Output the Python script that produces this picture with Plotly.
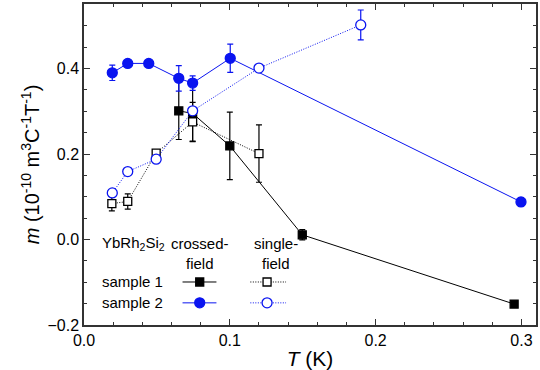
import plotly.graph_objects as go

# sample 1, crossed-field (filled black squares)
s1c_T = [0.065, 0.0745, 0.100, 0.1497, 0.295]
s1c_m = [0.301, 0.295, 0.219, 0.011, -0.151]
s1c_e = [0.067, 0.065, 0.079, 0.012, 0.0]

# sample 1, single-field (open black squares)
s1s_T = [0.0191, 0.030, 0.0495, 0.0745, 0.120]
s1s_m = [0.084, 0.089, 0.202, 0.275, 0.201]
s1s_e = [0.017, 0.018, 0.006, 0.046, 0.067]

# sample 2, crossed-field (filled blue circles)
s2c_T = [0.0194, 0.030, 0.0444, 0.065, 0.0745, 0.1003, 0.2997]
s2c_m = [0.390, 0.412, 0.412, 0.377, 0.366, 0.424, 0.088]
s2c_e = [0.018, 0.008, 0.008, 0.030, 0.017, 0.033, 0.010]

# sample 2, single-field (open blue circles)
s2s_T = [0.0194, 0.030, 0.0495, 0.0745, 0.120, 0.1898]
s2s_m = [0.109, 0.159, 0.188, 0.301, 0.401, 0.502]
s2s_e = [0.0, 0.0, 0.0, 0.008, 0.008, 0.035]

BLUE = "#0a14f0"
BLACK = "#000000"
FONT = "Liberation Sans, Arial, sans-serif"
DOT = "1px,1.5px"

fig = go.Figure()

def add(T, m, e, color, symbol, dash, fill):
    fig.add_trace(go.Scatter(
        x=T, y=m, mode="lines+markers",
        line=dict(color=color, width=1, dash=dash),
        marker=dict(symbol=symbol, size=10 if "circle" in symbol else 8,
                    color=fill, line=dict(color=color, width=1.3)),
        error_y=dict(type="data", array=e, visible=True, color=color,
                     thickness=1.2, width=3),
        showlegend=False, cliponaxis=False))

add(s1c_T, s1c_m, s1c_e, BLACK, "square", "solid", BLACK)
add(s1s_T, s1s_m, s1s_e, BLACK, "square", DOT, "white")
add(s2c_T, s2c_m, s2c_e, BLUE, "circle", "solid", BLUE)
add(s2s_T, s2s_m, s2s_e, BLUE, "circle", DOT, "white")

# legend glyphs (in a helper 0..1 axis pair spanning the plot area)
leg_rows = [0.134, 0.069]
leg = [
    (0.218, 0.293, 0.256, leg_rows[0], BLACK, "square", "solid", BLACK),
    (0.368, 0.447, 0.405, leg_rows[0], BLACK, "square", DOT, "white"),
    (0.218, 0.293, 0.256, leg_rows[1], BLUE, "circle", "solid", BLUE),
    (0.368, 0.447, 0.405, leg_rows[1], BLUE, "circle", DOT, "white"),
]
for x0, x1, xm, yy, c, sym, dash, fill in leg:
    fig.add_trace(go.Scatter(x=[x0, x1], y=[yy, yy], mode="lines",
                             line=dict(color=c, width=1, dash=dash),
                             xaxis="x2", yaxis="y2", showlegend=False))
    fig.add_trace(go.Scatter(x=[xm], y=[yy], mode="markers",
                             marker=dict(symbol=sym, size=10 if "circle" in sym else 8,
                                         color=fill, line=dict(color=c, width=1.3)),
                             xaxis="x2", yaxis="y2", showlegend=False))

ann = [
    dict(x=0.035, y=0.255, text="YbRh<sub>2</sub>Si<sub>2</sub>", xanchor="left"),
    dict(x=0.256, y=0.255, text="crossed-", xanchor="center"),
    dict(x=0.256, y=0.193, text="field", xanchor="center"),
    dict(x=0.425, y=0.255, text="single-", xanchor="center"),
    dict(x=0.425, y=0.193, text="field", xanchor="center"),
    dict(x=0.035, y=leg_rows[0], text="sample 1", xanchor="left"),
    dict(x=0.035, y=leg_rows[1], text="sample 2", xanchor="left"),
]
for a in ann:
    fig.add_annotation(xref="paper", yref="paper", showarrow=False,
                       yanchor="middle", font=dict(size=15, color="black", family=FONT), **a)

axis_common = dict(showline=True, linecolor="#333333", linewidth=1.5, mirror="ticks",
                   ticks="inside", ticklen=6, tickwidth=1, tickcolor="#333333",
                   showgrid=False, zeroline=False,
                   tickfont=dict(size=16, color="black", family=FONT))

fig.update_layout(
    width=540, height=370,
    margin=dict(l=84, r=2, t=4, b=45),
    paper_bgcolor="white", plot_bgcolor="white",
    font=dict(family=FONT, color="black"),
    xaxis=dict(range=[0, 0.31], dtick=0.1, tickformat=".1f",
               minor=dict(dtick=0.02, ticks="inside", ticklen=3, tickcolor="#333333"),
               title=dict(text="<i>T</i> (K)", font=dict(size=21), standoff=4),
               **axis_common),
    yaxis=dict(range=[-0.2, 0.551], tickvals=[-0.2, 0.0, 0.2, 0.4], tickformat=".1f",
               minor=dict(dtick=0.05, ticks="inside", ticklen=3, tickcolor="#333333"),
               title=dict(text="<i>m</i> (10<sup>-10</sup> m<sup>3</sup>C<sup>-1</sup>T<sup>-1</sup>)",
                          font=dict(size=20), standoff=2),
               **axis_common),
    xaxis2=dict(range=[0, 1], overlaying="x", visible=False),
    yaxis2=dict(range=[0, 1], overlaying="y", visible=False),
)

fig.write_html("out.html")
